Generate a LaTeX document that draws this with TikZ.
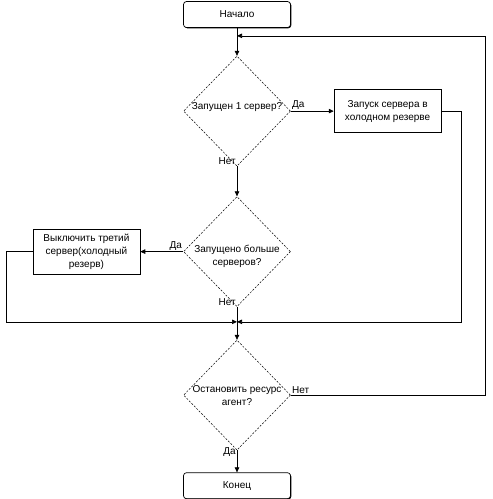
\documentclass[tikz,border=0pt]{standalone}
\usepackage{fontspec}
\setmainfont{Liberation Sans}
\usetikzlibrary{arrows.meta,positioning,shapes.geometric,calc,shadows}

\begin{document}
\begin{tikzpicture}[
  font=\fontsize{10}{13}\selectfont,
  line width=0.7pt,
  term/.style={draw, rounded corners=3pt, minimum width=107pt, minimum height=26pt, inner sep=2pt, fill=white,
    drop shadow={shadow xshift=0.8pt, shadow yshift=-0.8pt, fill=black, opacity=1}},
  proc/.style={draw, align=center, minimum width=107pt, minimum height=43pt, inner sep=2pt, fill=white},
  shproc/.style={proc, drop shadow={shadow xshift=0.8pt, shadow yshift=-0.8pt, fill=black, opacity=1}},
  dec/.style={diamond, draw, line width=0.5pt, dash pattern=on 2pt off 1.5pt, minimum width=107pt, minimum height=110pt, inner sep=0pt},
  txt/.style={align=center, inner sep=0pt},
  lab/.style={inner sep=1pt},
  arr/.style={-{Triangle[length=5pt,width=4.5pt]}}
]
  \useasboundingbox (0,0) rectangle (493pt,-499pt);

  \node[term] (start) at (237pt,-14.5pt) {Начало};
  \node[dec, below=28pt of start] (d1) {};
  \node[txt] (d1t) at ([yshift=4pt]d1.center) {Запущен 1 сервер?};
  \node[shproc, right=43pt of d1] (run) {Запуск сервера в\\холодном резерве};

  \node[dec, below=30pt of d1] (d2) {};
  \node[txt] (d2t) at ([yshift=-5pt]d2.center) {Запущено больше\\серверов?};
  \node[proc, left=43pt of d2, minimum height=45pt] (off) {Выключить третий\\сервер(холодный\\резерв)};

  \node[dec, below=33pt of d2] (d3) {};
  \node[txt] (d3t) at (d3.center) {Остановить ресурс\\агент?};
  \node[term, below=22pt of d3] (end) {Конец};

  \coordinate (top) at ($(start.south)+(0,-8pt)$);
  \coordinate (mrg) at ($(d2.south)+(0,-15pt)$);

  % main line
  \draw[arr] (start) -- (d1.north);
  \draw[arr] (d1.south) -- (d2.north);
  \draw[arr] (d2.south) -- (d3.north);
  \draw[arr] (d3.south) -- (end.north);

  % branches
  \draw[arr] (d1.east) -- (run.west);
  \draw[arr] (d2.west) -- (off.east);
  \draw[arr] (run.east) -- ++(20pt,0) |- (mrg);
  \draw[arr] (off.west) -- ++(-26pt,0) |- (mrg);
  \draw[arr] (d3.east) -- ++(195pt,0) |- (top);

  % labels
  \node[lab, anchor=south west] (y1) at (d1.east) {Да};
  \node[lab, anchor=east] (n1) at ([yshift=5pt]d1.south) {Нет};
  \node[lab, anchor=south east] (y2) at (d2.west) {Да};
  \node[lab, anchor=east] (n2) at ([yshift=5pt]d2.south) {Нет};
  \node[lab, anchor=south west] (n3) at (d3.east) {Нет};
  \node[lab, anchor=east] (y3) at ([yshift=-2pt]d3.south) {Да};
\end{tikzpicture}
\end{document}
